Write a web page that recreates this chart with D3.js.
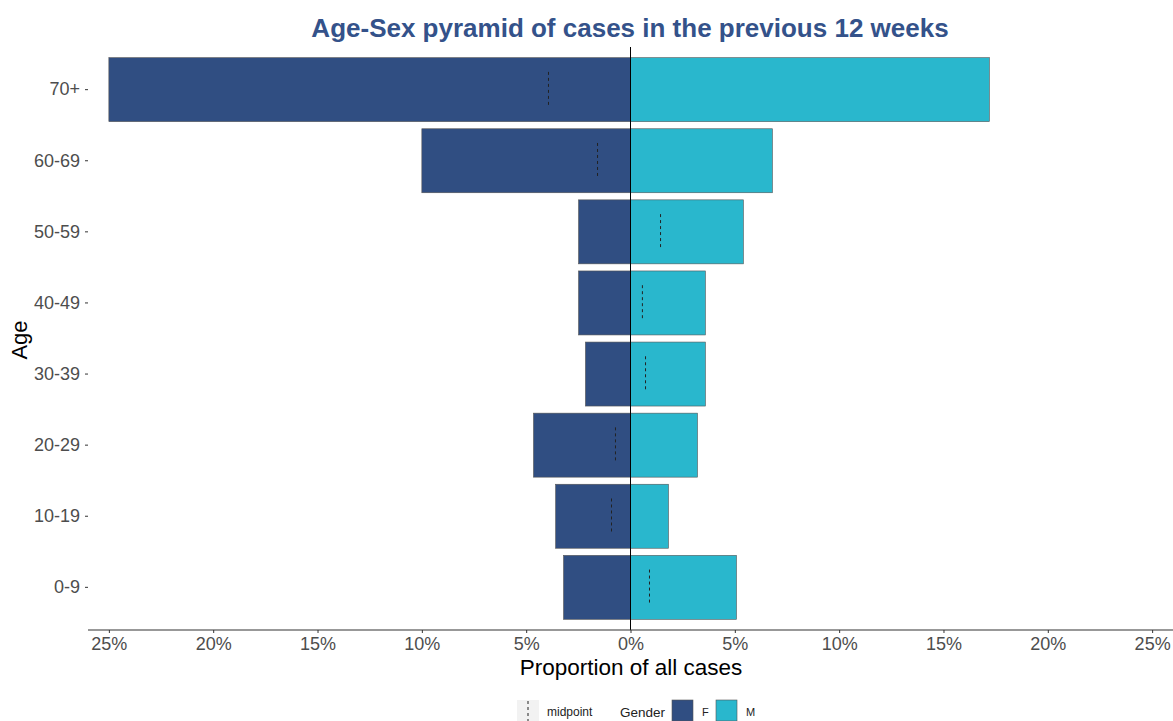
<!DOCTYPE html>
<html><head><meta charset="utf-8">
<script src="https://cdn.jsdelivr.net/npm/d3@7"></script>
<style>body{margin:0;background:#fff}svg{display:block;font-family:"Liberation Sans",Arial,sans-serif}</style>
</head><body><svg id="c" width="1173" height="721"></svg>
<script>
const ageGroups = ["0-9","10-19","20-29","30-39","40-49","50-59","60-69","70+"];
const femaleValues = [3.21, 3.59, 4.65, 2.16, 2.49, 2.49, 10.0, 25.0];
const maleValues = [5.08, 1.82, 3.21, 3.59, 3.59, 5.41, 6.8, 17.2];
const midpointValues = [0.91, -0.91, -0.72, 0.72, 0.57, 1.44, -1.58, -3.93];
const xTicks = [-25,-20,-15,-10,-5,0,5,10,15,20,25];
const genders = ["F","M"];
const colors = {F:"#304E82", M:"#29B7CD"};

const svg = d3.select("#c");
const x = d3.scaleLinear().domain([-26,26]).range([88,1173]);
const y = d3.scaleBand().domain(ageGroups.slice().reverse()).range([47,630]).paddingOuter(0.15).paddingInner(0.1);
const bw = y.bandwidth();
const step = y.step();

// bars
const rows = [];
ageGroups.forEach((a,i)=>{
  rows.push({age:a, g:"F", v:-femaleValues[i]});
  rows.push({age:a, g:"M", v:maleValues[i]});
});
svg.append("g").selectAll("rect").data(rows).join("rect")
  .attr("x", d=>x(Math.min(0,d.v)))
  .attr("width", d=>Math.abs(x(d.v)-x(0)))
  .attr("y", d=>y(d.age))
  .attr("height", bw)
  .attr("fill", d=>colors[d.g])
  .attr("stroke","#555").attr("stroke-width",0.6);

// midpoints
svg.append("g").selectAll("line").data(ageGroups).join("line")
  .attr("x1",(d,i)=>x(midpointValues[i])).attr("x2",(d,i)=>x(midpointValues[i]))
  .attr("y1",d=>y(d)+bw/2-step*0.25).attr("y2",d=>y(d)+bw/2+step*0.25)
  .attr("stroke","#222").attr("stroke-width",1).attr("stroke-dasharray","3,3");

// zero line
svg.append("line").attr("x1",x(0)).attr("x2",x(0)).attr("y1",47).attr("y2",630)
  .attr("stroke","#000").attr("stroke-width",1);

// x axis
const xa = svg.append("g").attr("transform","translate(0,630)")
  .call(d3.axisBottom(x).tickValues(xTicks).tickSize(3).tickPadding(4).tickFormat(d=>Math.abs(d)+"%"));
xa.select(".domain").attr("stroke","#333").attr("stroke-width",1.2).attr("d","M88,0H1173");
xa.selectAll(".tick line").attr("stroke","#333");
xa.selectAll("text").attr("fill","#4D4D4D").attr("font-size",18).attr("font-family","Liberation Sans, Arial, sans-serif");

// y axis
const ya = svg.append("g").attr("transform","translate(88,0)")
  .call(d3.axisLeft(y).tickSize(3).tickPadding(5));
ya.select(".domain").remove();
ya.selectAll(".tick line").attr("stroke","#333");
ya.selectAll("text").attr("fill","#4D4D4D").attr("font-size",18).attr("font-family","Liberation Sans, Arial, sans-serif");

// titles
svg.append("text").attr("x",630).attr("y",37).attr("text-anchor","middle")
  .attr("font-size",26).attr("font-weight","bold").attr("fill","#34528A").text("Age-Sex pyramid of cases in the previous 12 weeks");
svg.append("text").attr("x",631).attr("y",675).attr("text-anchor","middle")
  .attr("font-size",22.5).attr("fill","#000").text("Proportion of all cases");
svg.append("text").attr("transform","translate(27,340) rotate(-90)").attr("text-anchor","middle")
  .attr("font-size",22).attr("fill","#000").text("Age");

// legend
const lg = svg.append("g");
lg.append("rect").attr("x",517).attr("y",700).attr("width",22).attr("height",22).attr("fill","#F2F2F2");
lg.append("line").attr("x1",528).attr("x2",528).attr("y1",701).attr("y2",721)
  .attr("stroke","#222").attr("stroke-dasharray","3,3");
lg.append("text").attr("x",547).attr("y",716).attr("font-size",12).attr("fill","#222").text("midpoint");
lg.append("text").attr("x",620).attr("y",717).attr("font-size",13.5).attr("fill","#222").text("Gender");
const lx = {F:672, M:716};
genders.forEach(g=>{
  lg.append("rect").attr("x",lx[g]).attr("y",700).attr("width",21).attr("height",21)
    .attr("fill",colors[g]).attr("stroke","#555").attr("stroke-width",0.6);
  lg.append("text").attr("x",lx[g]+30).attr("y",716).attr("font-size",11).attr("fill","#222").text(g);
});
</script></body></html>
